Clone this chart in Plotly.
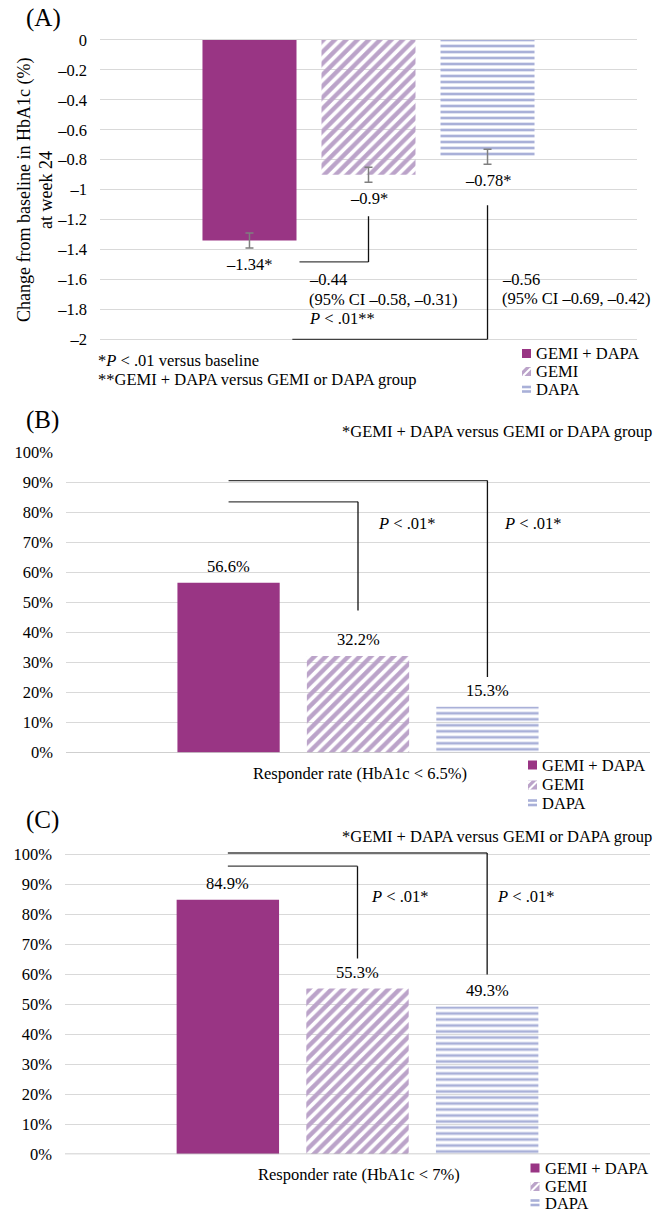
import plotly.graph_objects as go

# ---------------- data ----------------
groups = ["GEMI + DAPA", "GEMI", "DAPA"]
hba1c_change = [-1.34, -0.90, -0.78]
hba1c_err = [0.05, 0.05, 0.05]
resp_65 = [56.6, 32.2, 15.3]
resp_7 = [84.9, 55.3, 49.3]
a_ticks = [0, -0.2, -0.4, -0.6, -0.8, -1, -1.2, -1.4, -1.6, -1.8, -2]
pct_ticks = [0, 10, 20, 30, 40, 50, 60, 70, 80, 90, 100]

# comparison brackets: (start x, end bar index, horizontal level, end level)
a_brackets = [(0.42, 1, -1.483, -1.177), (0.36, 2, -2.0, -1.104)]
b_brackets = [(0.0, 1, 83.5, 47.3), (0.0, 2, 90.6, 25.2)]
c_brackets = [(0.0, 1, 96.1, 65.3), (0.0, 2, 100.5, 60.0)]

# ---------------- style ----------------
W, H = 656, 1215
FONT = "Liberation Serif"
FS = 16.5
C_COMBO = "#993584"
C_GEMI = "#bba3c9"
C_DAPA = "#a9b0d8"
GRID = "#d9d9d9"
LINE = "#404040"

def px(x):
    return x / W

def py(y):
    return 1 - y / H

def en(v):
    s = f"{abs(v):g}"
    return s if v == 0 else "–" + s

fig = go.Figure()
xs = [0, 1, 2]
pattern = dict(shape=["", "/", "-"], fgcolor=[C_COMBO, C_GEMI, C_DAPA],
               bgcolor=["white", "white", "white"], size=[8, 8, 6],
               solidity=[0.5, 0.55, 0.45], fillmode="replace")

for i, (vals, err) in enumerate([(hba1c_change, hba1c_err), (resp_65, None), (resp_7, None)]):
    ax = "" if i == 0 else str(i + 1)
    tr = go.Bar(x=xs, y=vals, width=0.79, xaxis="x" + ax, yaxis="y" + ax,
                marker=dict(color=[C_COMBO, C_GEMI, C_DAPA], line=dict(width=0), pattern=pattern),
                showlegend=False, hoverinfo="skip")
    if err is not None:
        tr.error_y = dict(type="data", array=err, color="#7f7f7f", thickness=1.5, width=4)
    fig.add_trace(tr)

xr = [-1.256, 3.256]
common_x = dict(range=xr, showgrid=False, zeroline=False, showticklabels=False, ticks="", fixedrange=True)
common_y = dict(showgrid=True, gridcolor=GRID, gridwidth=1.2, zeroline=False, ticks="",
                tickfont=dict(family=FONT, size=FS, color="#000"), ticklabelstandoff=12)

kA = (339.3 - 40) / 2.0
kC = (1154.3 - 854.5) / 100.0
fig.update_layout(
    width=W, height=H, margin=dict(l=0, r=0, t=0, b=0, autoexpand=False),
    paper_bgcolor="white", plot_bgcolor="white",
    font=dict(family=FONT, size=FS, color="#000"),
    xaxis=dict(domain=[px(100), px(637)], anchor="y", **common_x),
    yaxis=dict(domain=[py(339.3 + 0.04 * kA), py(40 - 0.02 * kA)], anchor="x", range=[-2.04, 0.02],
               tickvals=a_ticks, ticktext=[en(v) for v in a_ticks], **common_y),
    xaxis2=dict(domain=[px(66), px(650)], anchor="y2", **common_x),
    yaxis2=dict(domain=[py(752.7), py(452.3)], anchor="x2", range=[0, 100],
                tickvals=pct_ticks, ticktext=[f"{v}%" for v in pct_ticks], **common_y),
    xaxis3=dict(domain=[px(65), px(650)], anchor="y3", **common_x),
    yaxis3=dict(domain=[py(1154.3), py(1154.3 - 102 * kC)], anchor="x3", range=[0, 102],
                tickvals=pct_ticks, ticktext=[f"{v}%" for v in pct_ticks], **common_y),
)

# darker baseline for B and C
shapes = []
for ax in ["2", "3"]:
    shapes.append(dict(type="line", xref="x" + ax + " domain", yref="y" + ax, x0=0, x1=1, y0=0, y1=0,
                       line=dict(color="#bfbfbf", width=1.5)))

annotations = []

def ann(text, x, y, xref="paper", yref="paper", xanchor="left", yanchor="middle", size=FS, **kw):
    annotations.append(dict(text=text, x=x, y=y, xref=xref, yref=yref, xanchor=xanchor, yanchor=yanchor,
                            showarrow=False, font=dict(family=FONT, size=size, color="#000"), **kw))

# panel letters
ann("(A)", px(24), py(18), size=25)
ann("(B)", px(24), py(420), size=25)
ann("(C)", px(24), py(820), size=25)

# A: y title
ann("Change from baseline in HbA1c (%)", px(25), py(190), xanchor="center", size=18, textangle=-90)
ann("at week 24", px(46), py(190), xanchor="center", size=18, textangle=-90)

# A: value labels below bars
for i, (v, e) in enumerate(zip(hba1c_change, hba1c_err)):
    ann(en(v) + "*", i, v, xref="x", yref="y", xanchor="center", yshift=-24)

# B, C: value labels above bars
for ax, vals in [("2", resp_65), ("3", resp_7)]:
    for i, v in enumerate(vals):
        ann(f"{v:.1f}%", i, v, xref="x" + ax, yref="y" + ax, xanchor="center", yshift=16)

# brackets
for ax, brs in [("", a_brackets), ("2", b_brackets), ("3", c_brackets)]:
    for x0, j, yh, ye in brs:
        shapes.append(dict(type="line", xref="x" + ax, yref="y" + ax, x0=x0, x1=j, y0=yh, y1=yh,
                           line=dict(color=LINE, width=1.3)))
        shapes.append(dict(type="line", xref="x" + ax, yref="y" + ax, x0=j, x1=j, y0=yh, y1=ye,
                           line=dict(color="#111", width=1.3)))

# A: difference texts
ann("–0.44", 0.487, -1.599, xref="x", yref="y")
ann("(95% CI –0.58, –0.31)", 0.487, -1.599 - 20 / kA, xref="x", yref="y")
ann("<i>P</i> &lt; .01**", 0.487, -1.599 - 39 / kA, xref="x", yref="y")
ann("–0.56", 2.109, -1.599, xref="x", yref="y")
ann("(95% CI –0.69, –0.42)", 2.109, -1.599 - 19 / kA, xref="x", yref="y")

# A: footnotes
ann("*<i>P</i> &lt; .01 versus baseline", px(96), py(360))
ann("**GEMI + DAPA versus GEMI or DAPA group", px(96), py(379))

# B, C: p-values, notes and x labels
for ax, lvl in [("2", 76.2), ("3", 86.1)]:
    xa = (376 - 228.7) / 129.4 if ax == "2" else (369.3 - 227.8) / 129.6
    xb = (501.7 - 228.7) / 129.4 if ax == "2" else (495 - 227.8) / 129.6
    ann("<i>P</i> &lt; .01*", xa, lvl, xref="x" + ax, yref="y" + ax)
    ann("<i>P</i> &lt; .01*", xb, lvl, xref="x" + ax, yref="y" + ax)
ann("*GEMI + DAPA versus GEMI or DAPA group", px(654), py(431), xanchor="right")
ann("*GEMI + DAPA versus GEMI or DAPA group", px(654), py(836), xanchor="right")
ann("Responder rate (HbA1c &lt; 6.5%)", px(360), py(773), xanchor="center")
ann("Responder rate (HbA1c &lt; 7%)", px(359), py(1174), xanchor="center")

# manual legends
def legend(x0, ys):
    s = 9
    # combo: solid square
    y = ys[0]
    shapes.append(dict(type="rect", xref="paper", yref="paper", x0=px(x0), x1=px(x0 + s),
                       y0=py(y + s / 2), y1=py(y - s / 2), fillcolor=C_COMBO, line=dict(width=0)))
    # gemi: square with white diagonal
    y = ys[1]
    shapes.append(dict(type="rect", xref="paper", yref="paper", x0=px(x0), x1=px(x0 + s),
                       y0=py(y + s / 2), y1=py(y - s / 2), fillcolor=C_GEMI, line=dict(width=0)))
    shapes.append(dict(type="line", xref="paper", yref="paper", x0=px(x0 + 1), x1=px(x0 + s),
                       y0=py(y + s / 2), y1=py(y - s / 2 + 1), line=dict(color="white", width=2)))
    shapes.append(dict(type="path", xref="paper", yref="paper",
                       path=f"M {px(x0)} {py(y - s/2)} L {px(x0 + 4)} {py(y - s/2)} L {px(x0)} {py(y - s/2 + 4)} Z",
                       fillcolor="white", line=dict(width=0)))
    # dapa: two bars
    y = ys[2]
    for dy in (-2.5, 2.0):
        shapes.append(dict(type="rect", xref="paper", yref="paper", x0=px(x0), x1=px(x0 + s),
                           y0=py(y + dy + 1.3), y1=py(y + dy - 1.3), fillcolor=C_DAPA, line=dict(width=0)))
    for name, y in zip(groups, ys):
        ann(name, px(x0 + s + 3), py(y))

legend(522, [353.5, 371.5, 389.5])
legend(528, [765, 785, 803])
legend(530.5, [1168, 1186.5, 1203])

fig.update_layout(shapes=shapes, annotations=annotations)
fig.write_html("out.html", config={"displayModeBar": False},
               post_script="document.body.style.margin='0';")
